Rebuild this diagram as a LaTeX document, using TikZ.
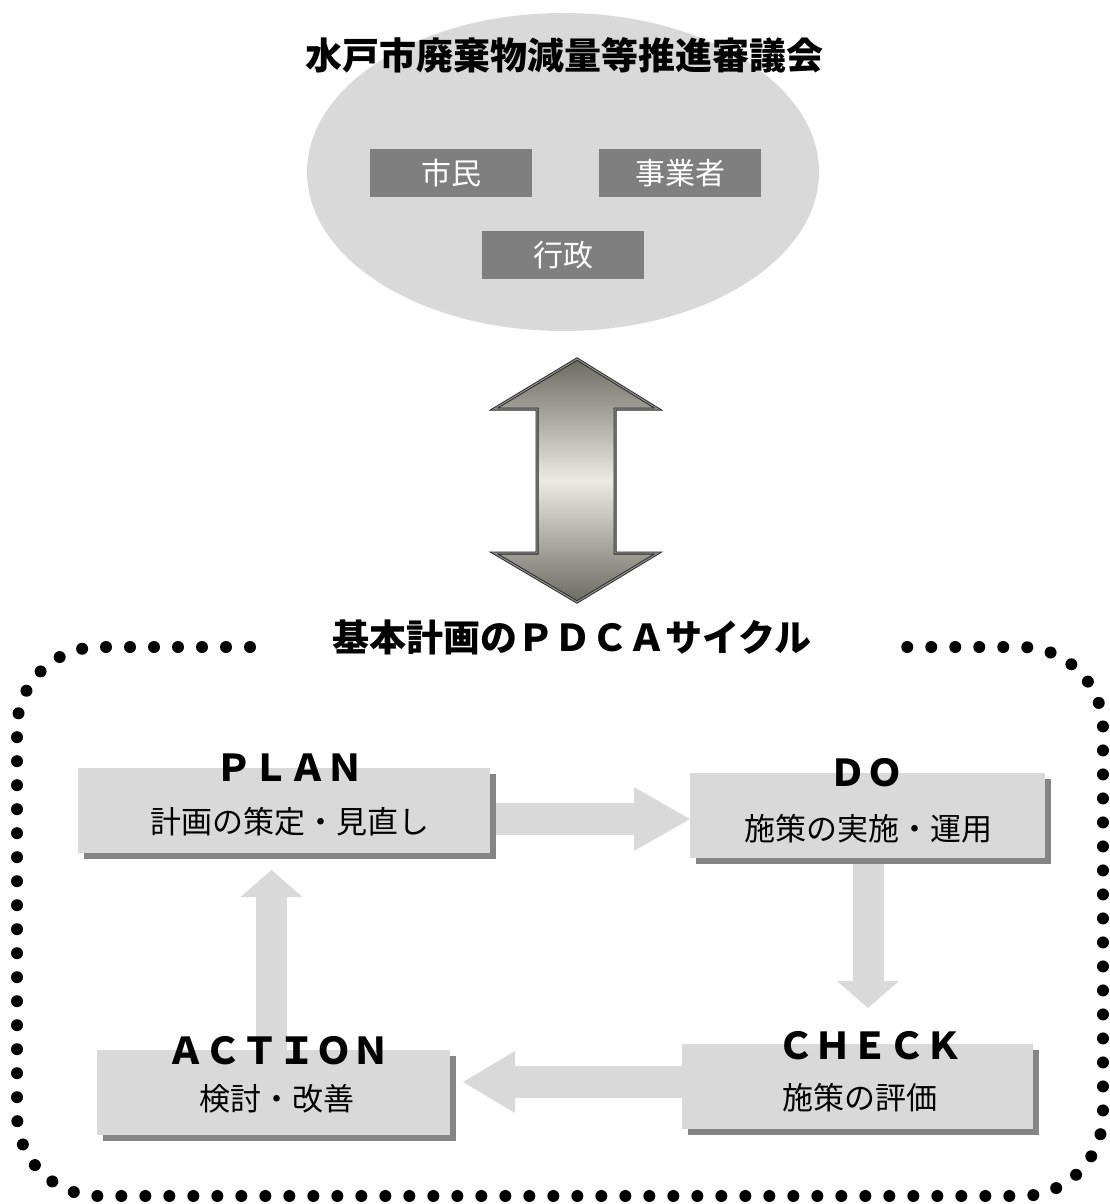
\documentclass[tikz,border=0pt]{standalone}
\usepackage{fontspec}
\setmainfont{Noto Sans CJK JP}
\usetikzlibrary{shapes.geometric,shadows,arrows.meta}
\definecolor{boxgray}{HTML}{D9D9D9}
\definecolor{shadowgray}{HTML}{858585}
\definecolor{darkbox}{HTML}{7F7F7F}
\definecolor{arrowdark}{HTML}{6C6B64}
\definecolor{arrowlight}{HTML}{ECEBE1}
\tikzset{
  member/.style={fill=darkbox, text=white, minimum width=162pt, minimum height=48pt, inner sep=0pt, font=\fontsize{30}{32}\selectfont},
  stagebox/.style={fill=boxgray, inner sep=0pt, drop shadow={shadow xshift=6pt, shadow yshift=-6pt, fill=shadowgray, opacity=1}},
  stagehead/.style={font=\fontsize{37}{40}\selectfont\bfseries, inner sep=0pt},
  stagesub/.style={font=\fontsize{31}{34}\selectfont, inner sep=0pt},
  harrow/.style={draw=boxgray, line width=32pt, -{Triangle[width=64pt,length=56pt,line width=0pt]}},
  varrow/.style={draw=boxgray, line width=31pt, -{Triangle[width=62pt,length=27pt,line width=0pt]}},
  title/.style={font=\fontsize{37}{40}\selectfont\bfseries, inner sep=0pt}
}
\begin{document}
\begin{tikzpicture}[x=1pt,y=-1pt]
\useasboundingbox (0,0) rectangle (1109,1204);
% council ellipse
\node (council) [ellipse, fill=boxgray, minimum width=512pt, minimum height=318pt, inner sep=0pt] at (563,172) {};
\node (ctitle) [title] at (564,55) {水戸市廃棄物減量等推進審議会};
\node (citizen) [member] at (451,173) {市民};
\node (business) [member] at (680,173) {事業者};
\node (admin) [member] at (563,255) {行政};
% double arrow
\path[top color=arrowdark, bottom color=arrowdark, middle color=arrowlight,
      draw=black!85, double=black!45, double distance=1.2pt, line width=0.9pt, line join=miter]
  (577,359) -- (658,409) -- (615,409) -- (615,553) -- (658,553) -- (577,602)
  -- (494,553) -- (537,553) -- (537,409) -- (494,409) -- cycle;
% dotted frame
\node (ptitle) [title] at (572,637) {基本計画のＰＤＣＡサイクル};
\draw[line width=12pt, line cap=round, dash pattern=on 0pt off 24pt, rounded corners=82pt]
  (250,647) -- (17,647) -- (17,1196) -- (1103,1196) -- (1103,647) -- (905,647);
% connectors (drawn below boxes)
\coordinate (pd1) at (490,819);
\coordinate (pd2) at (690,819);
\coordinate (dc1) at (868,858);
\coordinate (dc2) at (868,1008);
\coordinate (ca1) at (682,1082);
\coordinate (ca2) at (463,1082);
\coordinate (ap1) at (271.5,1050);
\coordinate (ap2) at (271.5,870);
\draw[harrow] (pd1) -- (pd2);
\draw[varrow] (dc1) -- (dc2);
\draw[harrow,-{Triangle[width=62pt,length=52pt,line width=0pt]}] (ca1) -- (ca2);
\draw[varrow] (ap1) -- (ap2);
% stage boxes
\node (plan) [stagebox, minimum width=412pt, minimum height=85pt] at (284,810.5) {};
\node (do) [stagebox, minimum width=355pt, minimum height=85pt] at (867.5,815.5) {};
\node (check) [stagebox, minimum width=351pt, minimum height=85pt] at (857.5,1086.5) {};
\node (action) [stagebox, minimum width=353pt, minimum height=85pt] at (273.5,1092.5) {};
% labels
\node (planh) [stagehead] at (289,768) {ＰＬＡＮ};
\node (plans) [stagesub] at (290,822) {計画の策定・見直し};
\node (doh) [stagehead] at (866,773) {ＤＯ};
\node (dos) [stagesub] at (868,829) {施策の実施・運用};
\node (checkh) [stagehead] at (870,1046) {ＣＨＥＣＫ};
\node (checks) [stagesub] at (860,1098) {施策の評価};
\node (actionh) [stagehead] at (278,1051) {ＡＣＴＩＯＮ};
\node (actions) [stagesub] at (277,1099) {検討・改善};
\end{tikzpicture}
\end{document}
